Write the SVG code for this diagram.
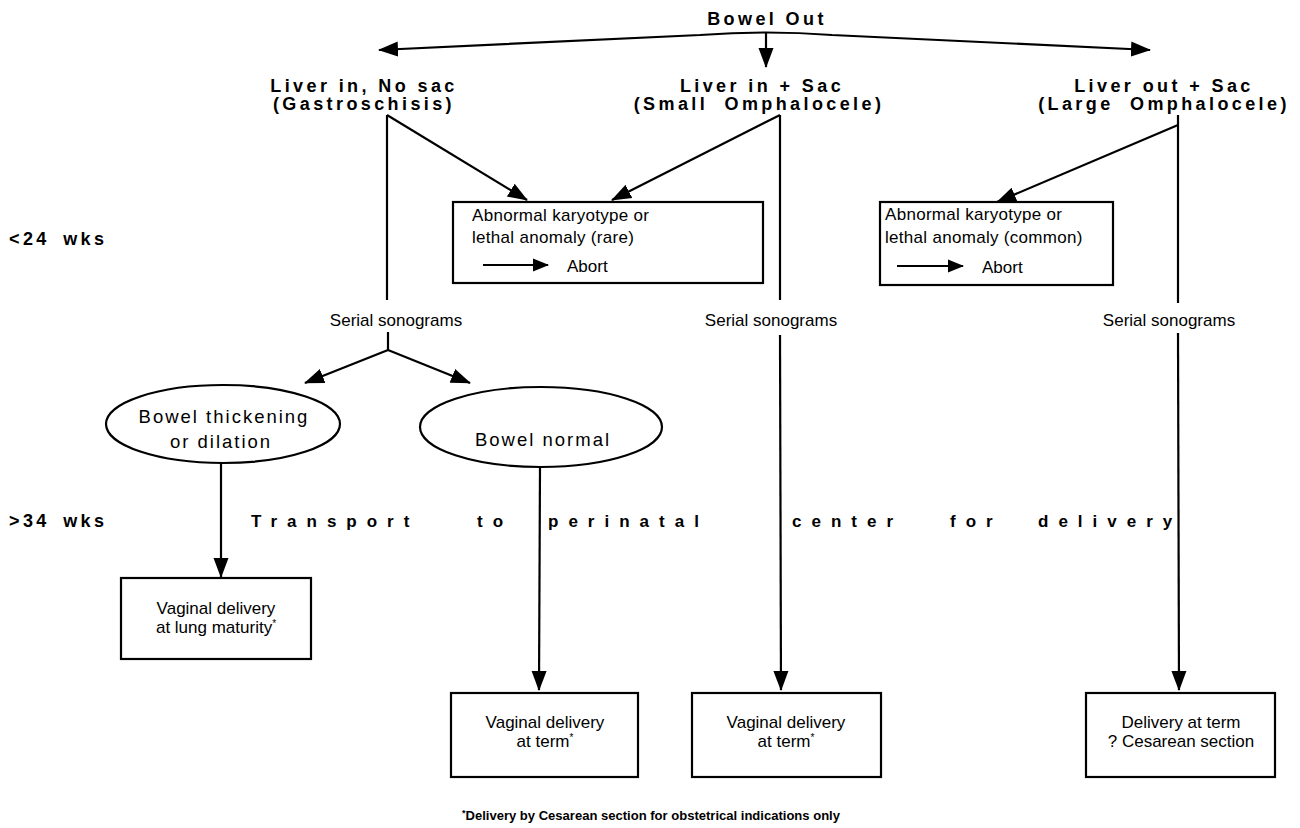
<svg xmlns="http://www.w3.org/2000/svg" width="1300" height="828" viewBox="0 0 1300 828">
<style>
.hd{font-family:"Liberation Sans",Arial,sans-serif;font-weight:bold;font-size:18px;letter-spacing:3.4px;fill:#000}
.tr{font-family:"Liberation Sans",Arial,sans-serif;font-weight:bold;font-size:17px;letter-spacing:10px;fill:#000}
.tx{font-family:"Liberation Sans",Arial,sans-serif;font-size:17px;fill:#000}
.el{font-family:"Liberation Sans",Arial,sans-serif;font-size:18.5px;letter-spacing:2px;fill:#000}
.ln{fill:none;stroke:#000;stroke-width:2.2}
.bx{fill:#fff;stroke:#000;stroke-width:2.2}
.fn{font-family:"Liberation Sans",Arial,sans-serif;font-weight:bold;font-size:13px;fill:#000}
</style>
<defs>
<marker id="ah" markerUnits="userSpaceOnUse" markerWidth="20" markerHeight="20" viewBox="0 0 20 20" refX="19" refY="10" orient="auto-start-reverse"><path d="M0,2.5 L20,10 L0,17.5 z" fill="#000"/></marker>
<marker id="ahs" markerUnits="userSpaceOnUse" markerWidth="16" markerHeight="16" viewBox="0 0 16 16" refX="15" refY="8" orient="auto"><path d="M0,1.5 L16,8 L0,14.5 z" fill="#000"/></marker>
</defs>
<rect width="1300" height="828" fill="#fff"/>

<g id="connectors">
<path class="ln" d="M379,50 L700,35 Q766,30 832,35 L1150,50" marker-start="url(#ah)" marker-end="url(#ah)"/>
<path class="ln" d="M766,32 L766,67" marker-end="url(#ah)"/>
<path class="ln" d="M387,115 L387,300"/>
<path class="ln" d="M387,115 L527,200" marker-end="url(#ah)"/>
<path class="ln" d="M780,115 L780,300"/>
<path class="ln" d="M780,115 L612,200" marker-end="url(#ah)"/>
<path class="ln" d="M780,335 L781,690" marker-end="url(#ah)"/>
<path class="ln" d="M1178,115 L1178,303"/>
<path class="ln" d="M1178,125 L997,202" marker-end="url(#ah)"/>
<path class="ln" d="M1178,333 L1179,690" marker-end="url(#ah)"/>
<path class="ln" d="M388,332 L388,350 L305,383" marker-end="url(#ah)"/>
<path class="ln" d="M388,350 L470,383" marker-end="url(#ah)"/>
<path class="ln" d="M221,463 L221,577" marker-end="url(#ah)"/>
<path class="ln" d="M540,467 L539,690" marker-end="url(#ah)"/>
</g>

<g id="title"><text class="hd" x="767" y="25" text-anchor="middle">Bowel Out</text></g>

<g id="gastroschisis">
<text class="hd" x="364" y="92" text-anchor="middle">Liver in, No sac</text>
<text class="hd" x="364" y="110" text-anchor="middle">(Gastroschisis)</text>
</g>
<g id="small-omphalocele">
<text class="hd" x="762" y="92" text-anchor="middle">Liver in + Sac</text>
<text class="hd" x="759" y="110" text-anchor="middle" word-spacing="8">(Small Omphalocele)</text>
</g>
<g id="large-omphalocele">
<text class="hd" x="1164" y="92" text-anchor="middle">Liver out + Sac</text>
<text class="hd" x="1164" y="110" text-anchor="middle" word-spacing="8">(Large Omphalocele)</text>
</g>

<g id="wk24"><text class="hd" x="9" y="245" word-spacing="5">&lt;24 wks</text></g>
<g id="wk34"><text class="hd" x="9" y="527" word-spacing="5">&gt;34 wks</text></g>

<g id="abnormal-rare">
<rect class="bx" x="453" y="202" width="310" height="81"/>
<text class="tx" x="472" y="221" letter-spacing="0.3">Abnormal karyotype or</text>
<text class="tx" x="472" y="243" letter-spacing="0.3">lethal anomaly (rare)</text>
<path class="ln" d="M483,265 L548,265" marker-end="url(#ahs)"/>
<text class="tx" x="567" y="272" font-size="19">Abort</text>
</g>
<g id="abnormal-common">
<rect class="bx" x="880" y="202" width="233" height="83"/>
<text class="tx" x="885" y="220" letter-spacing="0.3">Abnormal karyotype or</text>
<text class="tx" x="885" y="243" letter-spacing="0.3">lethal anomaly (common)</text>
<path class="ln" d="M897,266 L963,266" marker-end="url(#ahs)"/>
<text class="tx" x="982" y="273" font-size="19">Abort</text>
</g>

<g id="serial-1"><text class="tx" x="396" y="326" text-anchor="middle" font-size="17.5">Serial sonograms</text></g>
<g id="serial-2"><text class="tx" x="771" y="326" text-anchor="middle" font-size="17.5">Serial sonograms</text></g>
<g id="serial-3"><text class="tx" x="1169" y="326" text-anchor="middle" font-size="17.5">Serial sonograms</text></g>

<g id="bowel-thickening">
<ellipse class="bx" cx="223" cy="424" rx="117" ry="39"/>
<text class="el" x="224" y="423" text-anchor="middle">Bowel thickening</text>
<text class="el" x="221" y="448" text-anchor="middle">or dilation</text>
</g>
<g id="bowel-normal">
<ellipse class="bx" cx="541" cy="427" rx="121" ry="40"/>
<text class="el" x="543" y="446" text-anchor="middle">Bowel normal</text>
</g>

<g id="transport">
<text class="tr" x="251" y="527">Transport</text>
<text class="tr" x="477" y="527">to</text>
<text class="tr" x="548" y="527">perinatal</text>
<text class="tr" x="792" y="527">center</text>
<text class="tr" x="950" y="527">for</text>
<text class="tr" x="1038" y="527">delivery</text>
</g>

<g id="vaginal-lung">
<rect class="bx" x="121" y="578" width="190" height="81"/>
<text class="tx" x="216" y="614" text-anchor="middle">Vaginal delivery</text>
<text class="tx" x="216" y="633" text-anchor="middle">at lung maturity<tspan font-size="10" dy="-6">*</tspan></text>
</g>
<g id="vaginal-term-1">
<rect class="bx" x="451" y="693" width="187" height="84"/>
<text class="tx" x="545" y="728" text-anchor="middle">Vaginal delivery</text>
<text class="tx" x="545" y="747" text-anchor="middle">at term<tspan font-size="10" dy="-6">*</tspan></text>
</g>
<g id="vaginal-term-2">
<rect class="bx" x="692" y="693" width="189" height="84"/>
<text class="tx" x="786" y="728" text-anchor="middle">Vaginal delivery</text>
<text class="tx" x="786" y="747" text-anchor="middle">at term<tspan font-size="10" dy="-6">*</tspan></text>
</g>
<g id="delivery-term">
<rect class="bx" x="1086" y="693" width="189" height="84"/>
<text class="tx" x="1181" y="728" text-anchor="middle">Delivery at term</text>
<text class="tx" x="1181" y="747" text-anchor="middle">? Cesarean section</text>
</g>

<g id="footnote"><text class="fn" x="462" y="820" textLength="378" lengthAdjust="spacingAndGlyphs"><tspan font-size="9" dy="-4">*</tspan><tspan dy="4">Delivery by Cesarean section for obstetrical indications only</tspan></text></g>
</svg>
